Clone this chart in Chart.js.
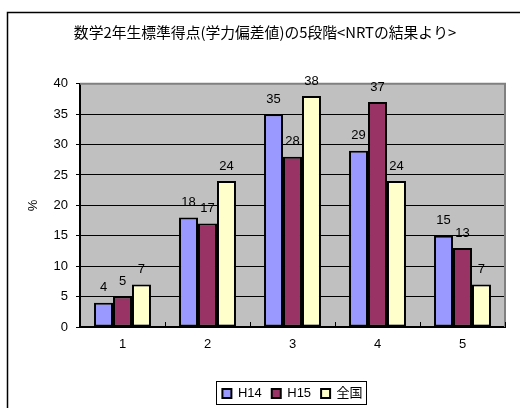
<!DOCTYPE html>
<html lang="ja">
<head>
<meta charset="UTF-8">
<title>数学2年生標準得点の5段階</title>
<script src="https://cdn.jsdelivr.net/npm/chart.js"></script>
<style>
  html, body { margin: 0; padding: 0; background: #fff; }
  #wrap { position: relative; width: 520px; height: 408px; }
</style>
</head>
<body>
<div id="wrap"><canvas id="chart" width="520" height="408"></canvas></div>
<script>
const categories = ['1', '2', '3', '4', '5'];
const h14 = [4, 18, 35, 29, 15];
const h15 = [5, 17, 28, 37, 13];
const zenkoku = [7, 24, 38, 24, 7];
const seriesNames = ['H14', 'H15', '全国'];
const yTicks = [0, 5, 10, 15, 20, 25, 30, 35, 40];

Chart.defaults.font.family = "'Liberation Sans', 'Noto Sans CJK JP', sans-serif";
Chart.defaults.color = '#000';

// outer frame, gray plot, category ticks, value labels, legend frame
const backdrop = {
  id: 'backdrop',
  afterLayout(chart) {
    // centre the legend under the plot area, title a bit to the right
    const lg = chart.legend, a = chart.chartArea;
    if (lg) {
      lg.left = a.left;
      lg.right = a.right;
      lg.top += 2;
      lg.bottom += 2;
    }
    if (chart.titleBlock) {
      chart.titleBlock.left = 10;
      chart.titleBlock.right = 520;
    }
  },
  beforeDraw(chart) {
    const { ctx, chartArea: a } = chart;
    ctx.save();
    ctx.fillStyle = '#fff';
    ctx.fillRect(0, 0, chart.width, chart.height);
    ctx.strokeStyle = '#000';
    ctx.lineWidth = 1.5;
    ctx.strokeRect(7.5, 12.5, 700, 600);
    ctx.fillStyle = '#c0c0c0';
    ctx.fillRect(a.left, a.top, a.right - a.left, a.bottom - a.top);
    ctx.restore();
  },
  beforeDatasetsDraw(chart) {
    const { ctx, chartArea: a, scales } = chart;
    ctx.save();
    ctx.strokeStyle = '#808080';
    ctx.lineWidth = 2;
    ctx.beginPath();
    ctx.moveTo(a.left, a.top);
    ctx.lineTo(a.right, a.top);
    ctx.lineTo(a.right, a.bottom);
    ctx.stroke();
    const x = scales.x;
    ctx.strokeStyle = '#000';
    ctx.lineWidth = 1;
    for (let i = 0; i <= categories.length; i++) {
      const px = Math.round(x.getPixelForValue(i - 0.5)) + 0.5;
      ctx.beginPath();
      ctx.moveTo(px, a.bottom);
      ctx.lineTo(px, a.bottom - 5);
      ctx.stroke();
    }
    ctx.restore();
  },
  afterDatasetsDraw(chart) {
    const { ctx } = chart;
    ctx.save();
    ctx.fillStyle = '#000';
    ctx.font = "13px 'Liberation Sans', sans-serif";
    ctx.textAlign = 'center';
    ctx.textBaseline = 'middle';
    chart.data.datasets.forEach((ds, di) => {
      chart.getDatasetMeta(di).data.forEach((bar, i) => {
        ctx.fillText(String(ds.data[i]), bar.x, bar.y - 15);
      });
    });
    ctx.restore();
  },
  afterDraw(chart) {
    const lg = chart.legend;
    const boxes = lg && lg.legendHitBoxes;
    if (!boxes || !boxes.length) return;
    const left = Math.min(...boxes.map(b => b.left));
    const right = Math.max(...boxes.map(b => b.left + b.width));
    const { ctx } = chart;
    ctx.save();
    ctx.strokeStyle = '#000';
    ctx.lineWidth = 1;
    ctx.strokeRect(Math.round(left - 6) + 0.5, Math.round(lg.top + 4) + 0.5,
      Math.round(right - left + 10), 23);
    ctx.restore();
  }
};

new Chart(document.getElementById('chart'), {
  type: 'bar',
  data: {
    labels: categories,
    datasets: [
      { label: seriesNames[0], data: h14, backgroundColor: '#9999ff' },
      { label: seriesNames[1], data: h15, backgroundColor: '#993366' },
      { label: seriesNames[2], data: zenkoku, backgroundColor: '#ffffcc' }
    ].map(d => Object.assign(d, {
      borderColor: '#000',
      borderWidth: 2,
      borderSkipped: false,
      barPercentage: 1.0,
      categoryPercentage: 0.67
    }))
  },
  options: {
    responsive: false,
    animation: false,
    layout: { padding: { left: 0, right: 15, top: 0, bottom: 0 } },
    plugins: {
      title: {
        display: true,
        text: '数学2年生標準得点(学力偏差値)の5段階<NRTの結果より>',
        font: { size: 14.8, weight: 'normal', family: "'Noto Sans CJK JP', sans-serif" },
        color: '#000',
        padding: { top: 23, bottom: 43 }
      },
      legend: {
        position: 'bottom',
        labels: {
          boxWidth: 9,
          boxHeight: 9,
          padding: 10,
          color: '#000',
          font: { size: 13 }
        }
      },
      tooltip: { enabled: false }
    },
    scales: {
      x: {
        grid: { display: false, drawTicks: false, offset: true },
        border: { color: '#000', width: 2 },
        ticks: { padding: 10, font: { size: 13 }, color: '#000' },
        afterFit(s) { s.height = 48; }
      },
      y: {
        min: 0,
        max: 40,
        afterBuildTicks(s) { s.ticks = yTicks.map(v => ({ value: v })); },
        grid: { color: '#000', lineWidth: 1, tickLength: 4 },
        border: { color: '#000', width: 2 },
        ticks: { padding: 8, font: { size: 13 }, color: '#000' },
        title: { display: true, text: '%', font: { size: 13 }, color: '#000', padding: { top: 26 } },
        afterFit(s) { s.width = 80; }
      }
    }
  },
  plugins: [backdrop]
});
</script>
</body>
</html>
